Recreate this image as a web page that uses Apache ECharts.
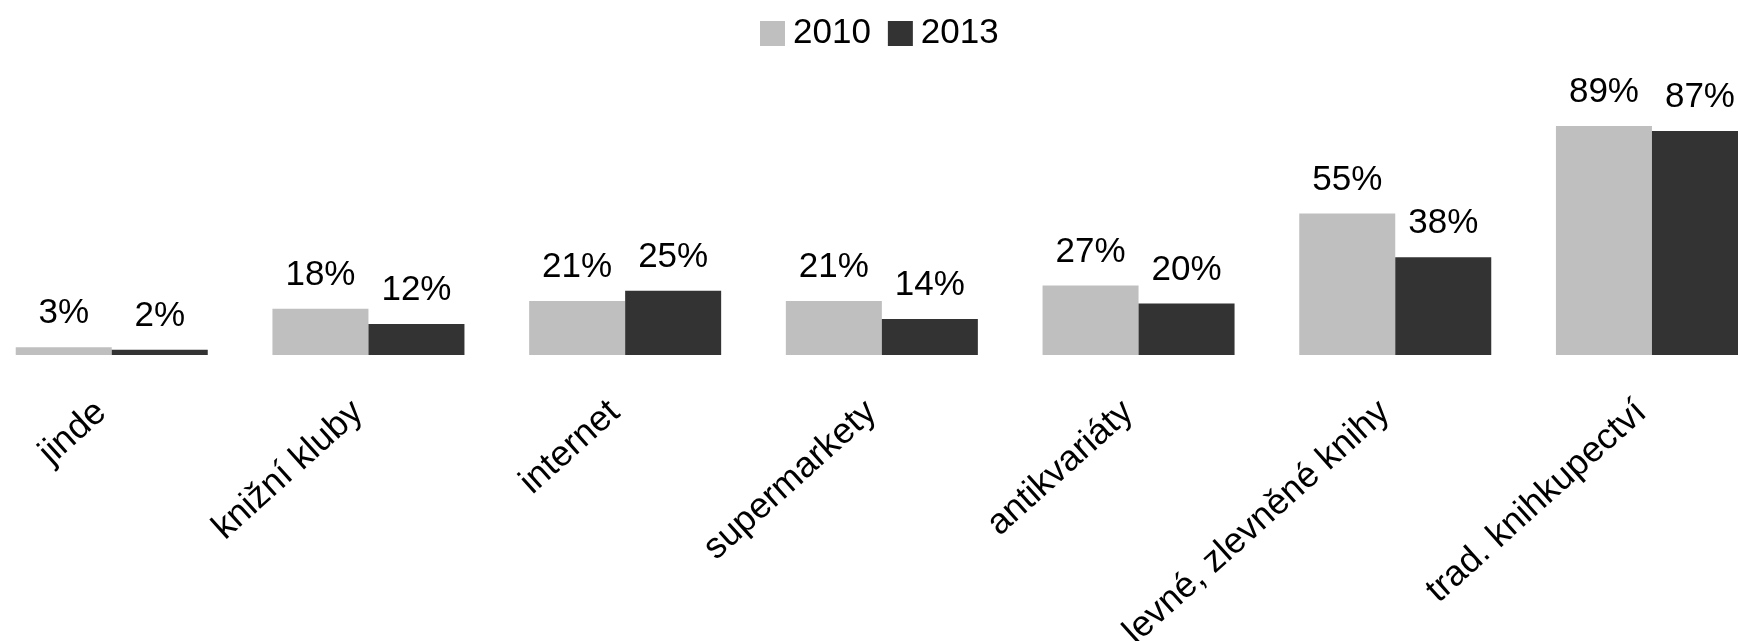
<!DOCTYPE html>
<html>
<head>
<meta charset="utf-8">
<script src="https://cdn.jsdelivr.net/npm/echarts@6/dist/echarts.min.js"></script>
<style>
html,body{margin:0;padding:0;background:#fff;overflow:hidden;}
#chart{width:1738px;height:641px;}
</style>
</head>
<body>
<div id="chart"></div>
<script>
const categories = ['jinde', 'knižní kluby', 'internet', 'supermarkety', 'antikvariáty', 'levné, zlevněné knihy', 'trad. knihkupectví'];
const values2010 = [3, 18, 21, 21, 27, 55, 89];
const values2013 = [2, 12, 25, 14, 20, 38, 87];
const seriesNames = ['2010', '2013'];

const FONT = '"Liberation Sans", Arial, sans-serif';
const chart = echarts.init(document.getElementById('chart'));
const labelCfg = {
  show: true,
  position: 'top',
  distance: 16,
  formatter: '{c}%',
  fontSize: 35,
  fontFamily: FONT,
  color: '#000'
};
chart.setOption({
  animation: false,
  backgroundColor: '#fff',
  legend: {
    left: 755,
    top: 11,
    itemWidth: 25,
    itemHeight: 25,
    itemGap: 17,
    icon: 'rect',
    textStyle: { fontSize: 35, fontFamily: FONT, color: '#000', padding: [0, 0, 0, 3] },
    data: seriesNames
  },
  grid: {
    left: -16.6,
    right: -42.3,
    top: 97.6,
    bottom: 286,
    containLabel: false,
    outerBoundsMode: 'none'
  },
  xAxis: {
    type: 'category',
    data: categories,
    axisLine: { show: false },
    axisTick: { show: false },
    axisLabel: {
      rotate: 42,
      interval: 0,
      margin: 43,
      fontSize: 36,
      fontFamily: FONT,
      color: '#000',
      padding: [0, 14, 0, 0]
    }
  },
  yAxis: {
    type: 'value',
    min: 0,
    max: 100,
    show: false,
    splitLine: { show: false }
  },
  series: [
    {
      name: seriesNames[0],
      type: 'bar',
      data: values2010,
      barGap: '0%',
      barCategoryGap: '25.2%',
      itemStyle: { color: '#bfbfbf' },
      label: labelCfg
    },
    {
      name: seriesNames[1],
      type: 'bar',
      data: values2013,
      barGap: '0%',
      barCategoryGap: '25.2%',
      itemStyle: { color: '#333333' },
      label: labelCfg
    }
  ]
});
</script>
</body>
</html>
